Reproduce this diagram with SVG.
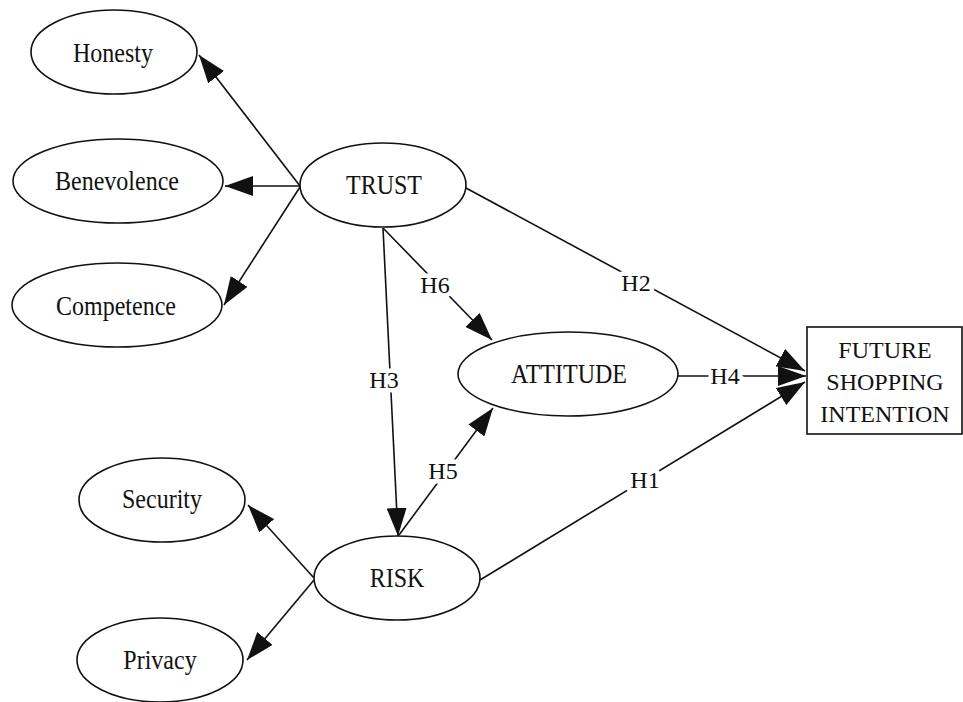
<svg xmlns="http://www.w3.org/2000/svg" width="963" height="702" viewBox="0 0 963 702">
<style>
.n{fill:#fff;stroke:#111;stroke-width:1.6}
.t{font-family:"Liberation Serif","Times New Roman",serif;font-size:24px;fill:#111;text-anchor:middle}
.e{stroke:#111;stroke-width:1.6;fill:none;marker-end:url(#ah)}
.l{font-family:"Liberation Serif","Times New Roman",serif;font-size:24px;fill:#111;text-anchor:middle;paint-order:stroke;stroke:#fff;stroke-width:9px;stroke-linejoin:round}
</style>
<defs>
<marker id="ah" viewBox="0 0 28 20" refX="28" refY="10" markerWidth="28" markerHeight="20" markerUnits="userSpaceOnUse" orient="auto">
<path d="M0,0 L28,10 L0,20 z" fill="#111"/>
</marker>
</defs>
<rect width="963" height="702" fill="#fff"/>
<g id="connectors">
<line class="e" x1="300" y1="186" x2="199" y2="55"/>
<line class="e" x1="300" y1="186" x2="225" y2="186"/>
<line class="e" x1="300" y1="187" x2="224" y2="305"/>
<line class="e" x1="314" y1="578" x2="248" y2="505"/>
<line class="e" x1="314" y1="580" x2="247" y2="660"/>
<line class="e" x1="383" y1="228" x2="398" y2="536"/>
<line class="e" x1="383" y1="228" x2="492" y2="340"/>
<line class="e" x1="466" y1="188" x2="805" y2="371"/>
<line class="e" x1="678" y1="376" x2="806" y2="376"/>
<line class="e" x1="480" y1="580" x2="805" y2="382"/>
<line class="e" x1="399" y1="535" x2="493" y2="408"/>
<text class="l" x="384" y="388">H3</text>
<text class="l" x="435" y="293">H6</text>
<text class="l" x="636" y="291">H2</text>
<text class="l" x="725" y="384">H4</text>
<text class="l" x="443" y="479">H5</text>
<text class="l" x="645" y="488">H1</text>
</g>
<g id="honesty"><ellipse class="n" cx="114" cy="52" rx="83" ry="42"/><text class="t" transform="translate(113,62) scale(1,1.15)">Honesty</text></g>
<g id="benevolence"><ellipse class="n" cx="118" cy="181" rx="105" ry="42"/><text class="t" transform="translate(117,190) scale(1,1.15)">Benevolence</text></g>
<g id="competence"><ellipse class="n" cx="117" cy="305" rx="105" ry="42"/><text class="t" transform="translate(116,315) scale(1,1.15)">Competence</text></g>
<g id="trust"><ellipse class="n" cx="383" cy="185" rx="83" ry="42"/><text class="t" transform="translate(384,194) scale(1,1.15)">TRUST</text></g>
<g id="attitude"><ellipse class="n" cx="568" cy="374" rx="110" ry="42"/><text class="t" transform="translate(569,383) scale(1,1.15)">ATTITUDE</text></g>
<g id="risk"><ellipse class="n" cx="397" cy="578" rx="83" ry="42"/><text class="t" transform="translate(397,587) scale(1,1.15)">RISK</text></g>
<g id="security"><ellipse class="n" cx="162" cy="500" rx="83" ry="42"/><text class="t" transform="translate(162,508) scale(1,1.15)">Security</text></g>
<g id="privacy"><ellipse class="n" cx="160" cy="660" rx="83" ry="42"/><text class="t" transform="translate(160,669) scale(1,1.15)">Privacy</text></g>
<g id="future"><rect class="n" x="807" y="327" width="155" height="107"/>
<text class="t" x="885" y="358">FUTURE</text>
<text class="t" x="885" y="390">SHOPPING</text>
<text class="t" x="885" y="422">INTENTION</text></g>
</svg>
